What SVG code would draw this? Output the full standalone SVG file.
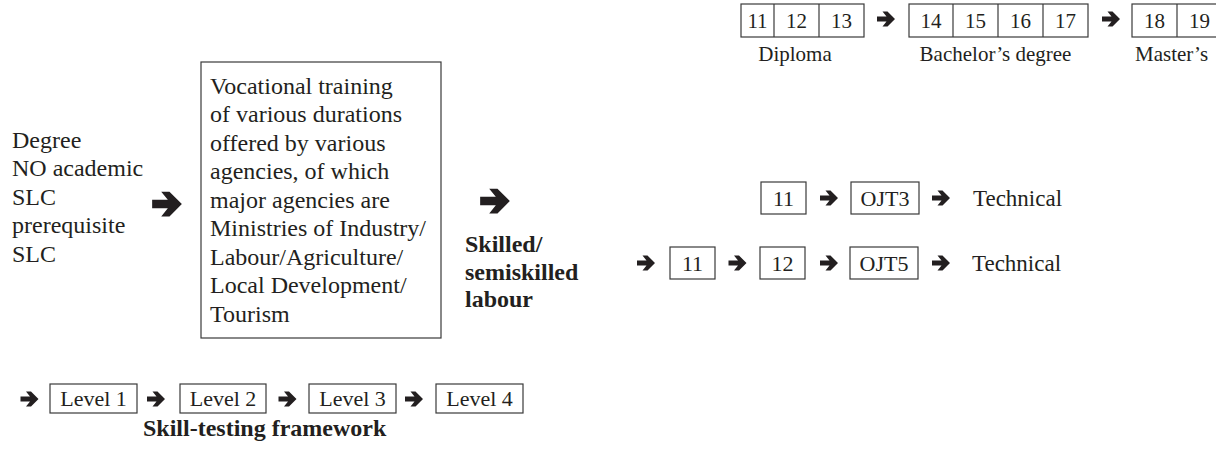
<svg xmlns="http://www.w3.org/2000/svg" xmlns:xlink="http://www.w3.org/1999/xlink" width="1216" height="462" viewBox="0 0 1216 462" font-family="'Liberation Serif', 'Times New Roman', Times, serif">
  <style>
    text { font-family: "Liberation Serif", "Times New Roman", Times, serif; fill: #231f20; }
    .lbl { font-size: 21px; }
    .num { font-size: 21px; text-anchor: middle; }
    .cell { font-size: 22px; text-anchor: middle; }
    .body { font-size: 24px; }
    .tech { font-size: 23px; }
    .mid { text-anchor: middle; }
    .bold { font-weight: bold; font-size: 24px; }
    .box { fill: #ffffff; stroke: #3a3a3a; stroke-width: 1.2; }
    .div { stroke: #3a3a3a; stroke-width: 1.2; }
    .arr { fill: #231f20; }
  </style>
  <defs>
    <!-- heavy right-pointing arrow, centred on its origin, 18 px long -->
    <path id="arrow" d="M-9,-2.6 H0.5 L-3.5,-7.5 H1.5 L9,0 L1.5,7.5 H-3.5 L0.5,2.6 H-9 Z"/>
  </defs>

  <rect width="1216" height="462" fill="#ffffff"/>

  <!-- academic track: diploma, bachelor's, master's years -->
  <g id="diploma">
    <rect class="box" x="741" y="4" width="123" height="33"/>
    <line class="div" x1="774" y1="4" x2="774" y2="37"/>
    <line class="div" x1="819" y1="4" x2="819" y2="37"/>
    <text class="num" x="757.5" y="28">11</text>
    <text class="num" x="796.5" y="28">12</text>
    <text class="num" x="841.5" y="28">13</text>
    <text class="lbl mid" x="795" y="61">Diploma</text>
  </g>
  <g id="bachelor">
    <rect class="box" x="909" y="4" width="179" height="33"/>
    <line class="div" x1="953" y1="4" x2="953" y2="37"/>
    <line class="div" x1="998" y1="4" x2="998" y2="37"/>
    <line class="div" x1="1043" y1="4" x2="1043" y2="37"/>
    <text class="num" x="931" y="28">14</text>
    <text class="num" x="975.5" y="28">15</text>
    <text class="num" x="1020.5" y="28">16</text>
    <text class="num" x="1065.5" y="28">17</text>
    <text class="lbl mid" x="995.5" y="61">Bachelor’s degree</text>
  </g>
  <g id="master">
    <rect class="box" x="1132" y="4" width="100" height="33"/>
    <line class="div" x1="1177" y1="4" x2="1177" y2="37"/>
    <text class="num" x="1154.5" y="28">18</text>
    <text class="num" x="1199.5" y="28">19</text>
    <text class="lbl" x="1135" y="61">Master’s</text>
  </g>

  <!-- entry requirements -->
  <g id="entry">
    <text class="body" x="12" y="147.5">Degree</text>
    <text class="body" x="12" y="176">NO academic</text>
    <text class="body" x="12" y="204.5">SLC</text>
    <text class="body" x="12" y="233">prerequisite</text>
    <text class="body" x="12" y="261.5">SLC</text>
  </g>

  <!-- vocational training providers -->
  <g id="vocational">
    <rect class="box" x="201" y="62" width="240" height="276"/>
    <text class="body" x="210" y="93.5">Vocational training</text>
    <text class="body" x="210" y="122">of various durations</text>
    <text class="body" x="210" y="150.5">offered by various</text>
    <text class="body" x="210" y="179">agencies, of which</text>
    <text class="body" x="210" y="207.5">major agencies are</text>
    <text class="body" x="210" y="236">Ministries of Industry/</text>
    <text class="body" x="210" y="264.5">Labour/Agriculture/</text>
    <text class="body" x="210" y="293">Local Development/</text>
    <text class="body" x="210" y="321.5">Tourism</text>
  </g>

  <!-- outcome -->
  <g id="labour">
    <text class="bold" x="465" y="252">Skilled/</text>
    <text class="bold" x="465" y="280">semiskilled</text>
    <text class="bold" x="465" y="307">labour</text>
  </g>

  <!-- technical track, first route -->
  <g id="tech-row1">
    <rect class="box" x="761" y="182" width="45" height="32"/>
    <text class="cell" x="783.5" y="205.5">11</text>
    <rect class="box" x="851" y="182" width="68" height="32"/>
    <text class="cell" x="885" y="205.5">OJT3</text>
    <text class="tech" x="973" y="206">Technical</text>
  </g>

  <!-- technical track, second route -->
  <g id="tech-row2">
    <rect class="box" x="670" y="247" width="45" height="32"/>
    <text class="cell" x="692.5" y="270.5">11</text>
    <rect class="box" x="760" y="247" width="45" height="32"/>
    <text class="cell" x="782.5" y="270.5">12</text>
    <rect class="box" x="850" y="247" width="68" height="32"/>
    <text class="cell" x="884" y="270.5">OJT5</text>
    <text class="tech" x="972" y="271">Technical</text>
  </g>

  <!-- skill-testing levels -->
  <g id="levels">
    <rect class="box" x="50" y="384" width="87" height="29"/>
    <text class="cell" x="93.5" y="406">Level 1</text>
    <rect class="box" x="180" y="384" width="86" height="29"/>
    <text class="cell" x="223" y="406">Level 2</text>
    <rect class="box" x="309" y="384" width="87" height="29"/>
    <text class="cell" x="352.5" y="406">Level 3</text>
    <rect class="box" x="436" y="384" width="87" height="29"/>
    <text class="cell" x="479.5" y="406">Level 4</text>
    <text class="bold" x="143" y="436">Skill-testing framework</text>
  </g>

  <!-- connectors -->
  <g id="connectors" class="arr">
    <use xlink:href="#arrow" x="886" y="19"/>
    <use xlink:href="#arrow" x="1111" y="19"/>
    <use xlink:href="#arrow" transform="translate(167 204) scale(1.65)"/>
    <use xlink:href="#arrow" transform="translate(495 201) scale(1.65)"/>
    <use xlink:href="#arrow" x="829" y="198"/>
    <use xlink:href="#arrow" x="941" y="198"/>
    <use xlink:href="#arrow" x="646" y="263"/>
    <use xlink:href="#arrow" x="737.5" y="263"/>
    <use xlink:href="#arrow" x="829" y="263"/>
    <use xlink:href="#arrow" x="941" y="263"/>
    <use xlink:href="#arrow" x="29.5" y="399"/>
    <use xlink:href="#arrow" x="156" y="399"/>
    <use xlink:href="#arrow" x="287.5" y="399"/>
    <use xlink:href="#arrow" x="414" y="399"/>
  </g>
</svg>
